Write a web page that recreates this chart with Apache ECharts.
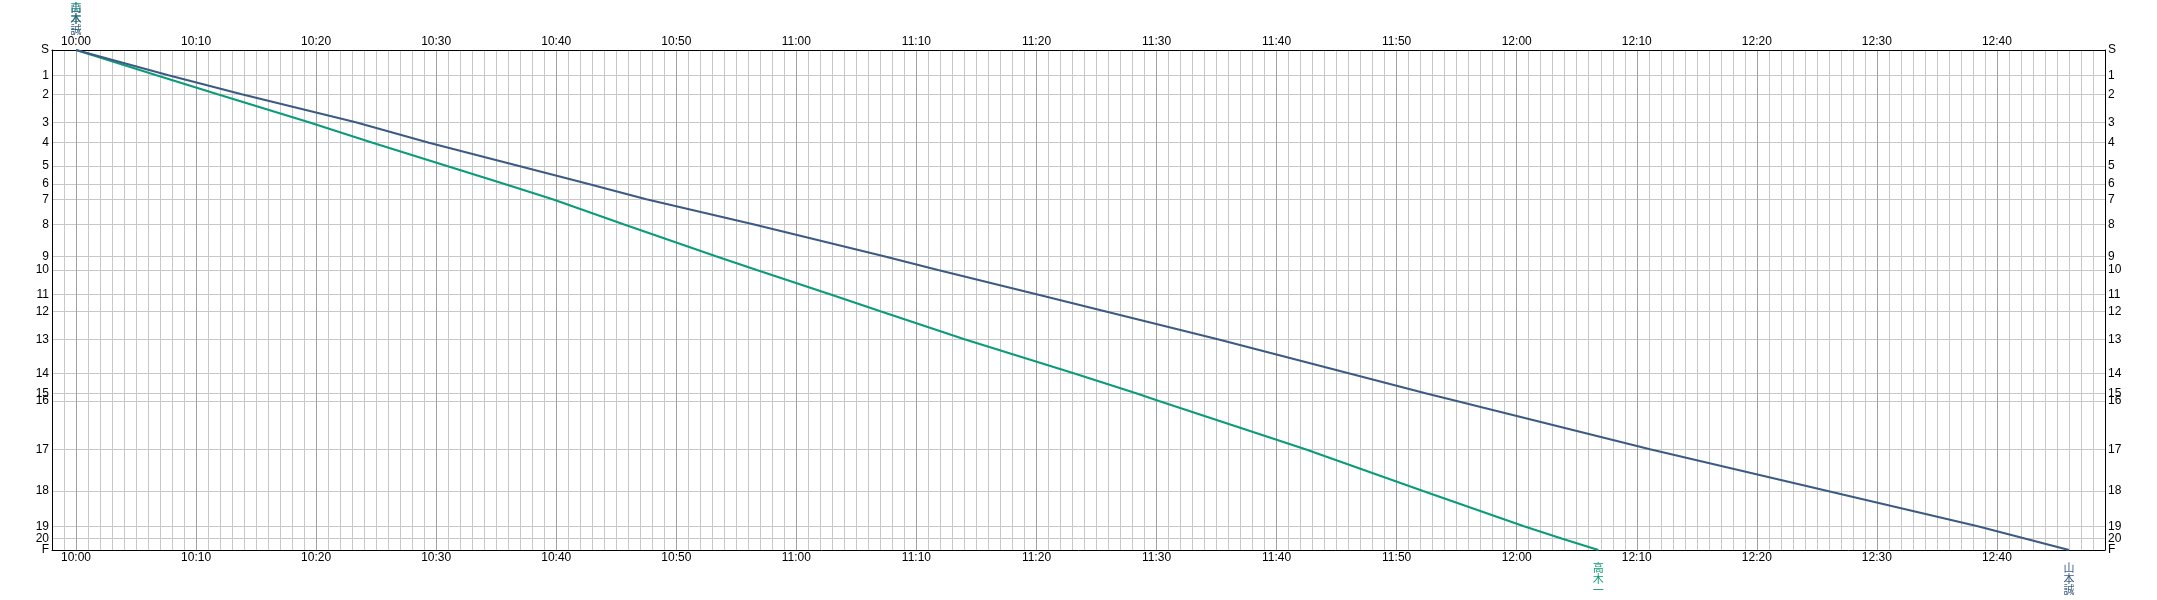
<!DOCTYPE html>
<html>
<head>
<meta charset="utf-8">
<script src="https://cdn.jsdelivr.net/npm/echarts@6/dist/echarts.min.js"></script>
<style>
html,body{margin:0;padding:0;background:#fff;}
#chart{width:2157px;height:600px;}
</style>
</head>
<body>
<div id="chart"></div>
<script>
// Stations (top to bottom) and their position along the line
const stationNames = ['S','1','2','3','4','5','6','7','8','9','10','11','12','13','14','15','16','17','18','19','20','F'];
const stationPos = [0, 25.3, 44.3, 72.3, 92.7, 116, 134, 149.3, 174.3, 206.3, 220, 244.3, 261.3, 289.3, 323.3, 343.3, 351, 399.3, 441, 476.3, 488.7, 500];

// Time tick labels: minutes after 10:00
const timeTicks = [0,10,20,30,40,50,60,70,80,90,100,110,120,130,140,150,160];

// Trains: passing time (minutes after 10:00) at each station
const trainNames = ['山本誠', '高木一'];
const yamamotoTimes = [0, 7.7, 13.8, 23.3, 29.4, 36.9, 42.7, 47.5, 56.4, 67.3, 71.8, 80.0, 85.7, 95.1, 106.0, 112.4, 115.0, 131.1, 145.9, 158.4, 162.4, 166.0];
const takagiTimes   = [0, 6.7, 11.8, 19.4, 24.7, 30.9, 35.7, 39.7, 45.6, 53.3, 56.7, 62.8, 67.0, 74.0, 83.1, 88.3, 90.2, 102.4, 112.2, 120.6, 123.8, 126.8];

const FONT = "'Liberation Sans Narrow','Liberation Sans',sans-serif";
const CJK = "'Noto Sans CJK JP',sans-serif";

function fmtTime(v){
  const total = 600 + Math.round(v);
  const h = Math.floor(total/60), m = total % 60;
  return h + ':' + (m < 10 ? '0' : '') + m;
}
function stationLabel(v){
  let best = 0, d = Infinity;
  stationPos.forEach((p,i)=>{ const dd = Math.abs(p - v); if (dd < d){ d = dd; best = i; } });
  return stationNames[best];
}

function xAxisBase(pos){
  return {
    type: 'value', position: pos, min: -2, max: 169, interval: 1,
    axisLine: { show: true, onZero: false, lineStyle: { color: '#000', width: 1 } },
    axisTick: { show: false, customValues: timeTicks },
    axisLabel: { customValues: timeTicks, formatter: fmtTime, color: '#000', fontFamily: FONT, fontSize: 12, margin: 2, hideOverlap: false },
    minorTick: { show: false }
  };
}

const xBottom = xAxisBase('bottom');
xBottom.axisTick = { show: false };
xBottom.splitLine = { show: true, lineStyle: { color: '#c8c8c8', width: 1 } };
const xTop = xAxisBase('top');
xTop.splitLine = { show: true, lineStyle: { color: '#a0a0a0', width: 1 } };

// main station axes: labels S..20; the terminal label F goes on a companion axis
function yAxisBase(pos, labelValues, withLine){
  return {
    type: 'value', position: pos, inverse: true, min: 0, max: 500,
    axisLine: { show: withLine, onZero: false, lineStyle: { color: '#000', width: 1 } },
    axisTick: { show: false, customValues: stationPos },
    axisLabel: { customValues: labelValues, formatter: stationLabel, color: '#000', fontFamily: FONT, fontSize: 12, margin: 3,
                 showMinLabel: true, showMaxLabel: true, hideOverlap: false },
    splitLine: { show: withLine && pos === 'left', lineStyle: { color: '#c8c8c8', width: 1 } }
  };
}
const mainLabels = stationPos.slice(0, -1);
const endLabels = stationPos.slice(-1);

function trainSeries(name, times, color){
  const data = times.map((t,i)=>[t, stationPos[i]]);
  const last = data[data.length-1];
  const vtext = name.split('').join('\n');
  return {
    type: 'line', name: name, data: data, xAxisIndex: 0, yAxisIndex: 0,
    symbol: 'none', smooth: false, color: color,
    lineStyle: { color: color, width: 2 },
    z: 5,
    markPoint: {
      symbol: 'circle', symbolSize: 1, itemStyle: { color: 'rgba(0,0,0,0)' },
      animation: false,
      data: [
        { coord: data[0], label: { show: true, position: 'top', distance: 14, formatter: vtext, color: color, fontFamily: CJK, fontSize: 11, lineHeight: 11, align: 'center' } },
        { coord: last, label: { show: true, position: 'bottom', distance: 12, formatter: vtext, color: color, fontFamily: CJK, fontSize: 11, lineHeight: 11, align: 'center' } }
      ]
    }
  };
}

const chart = echarts.init(document.getElementById('chart'), null, { renderer: 'canvas' });
chart.setOption({
  animation: false,
  backgroundColor: '#fff',
  grid: { left: 52, right: 52, top: 50, bottom: 50, containLabel: false, outerBoundsMode: 'none' },
  xAxis: [xBottom, xTop],
  yAxis: [
    yAxisBase('left', mainLabels, true),
    yAxisBase('right', mainLabels, true),
    yAxisBase('left', endLabels, false),
    yAxisBase('right', endLabels, false)
  ],
  series: [
    trainSeries(trainNames[1], takagiTimes, '#0a9b78'),
    trainSeries(trainNames[0], yamamotoTimes, '#3b5b82')
  ]
});
</script>
</body>
</html>
